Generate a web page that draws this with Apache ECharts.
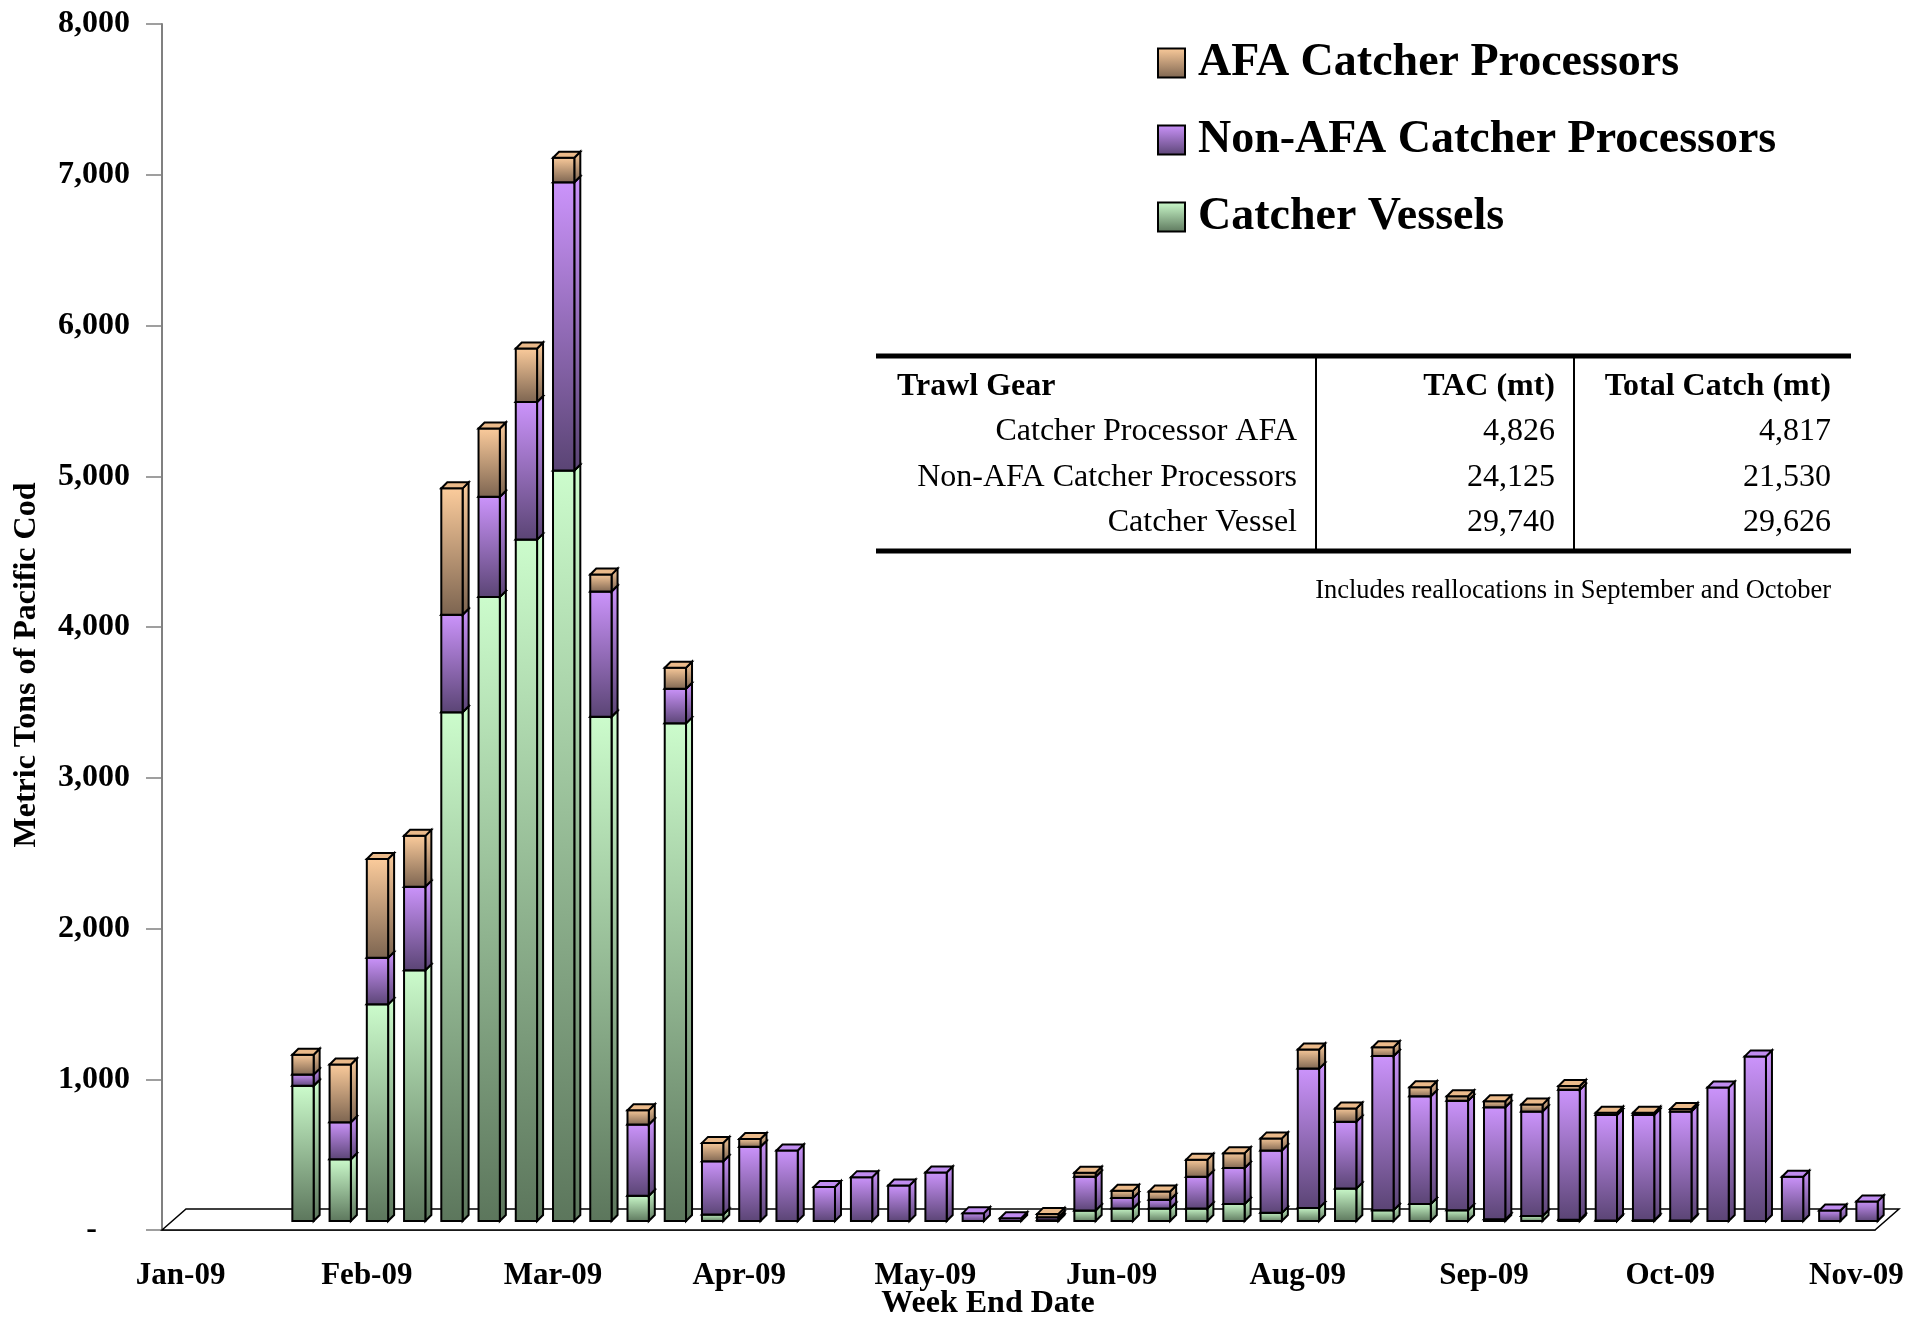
<!DOCTYPE html>
<html>
<head>
<meta charset="utf-8">
<title>Trawl Pacific cod catch by week, 2009</title>
<script src="https://cdn.jsdelivr.net/npm/echarts@6/dist/echarts.min.js"></script>
<style>
  html, body { margin: 0; padding: 0; background: #fff; }
  #chart { width: 1909px; height: 1319px; }
</style>
</head>
<body>
<div id="chart"></div>
<script>
  // week end dates (Saturdays, Jan 3 - Nov 14 2009), shown as Mon-YY
  var weeks = [
    'Jan-09', 'Jan-09', 'Jan-09', 'Jan-09', 'Jan-09',
    'Feb-09', 'Feb-09', 'Feb-09', 'Feb-09',
    'Mar-09', 'Mar-09', 'Mar-09', 'Mar-09',
    'Apr-09', 'Apr-09', 'Apr-09', 'Apr-09',
    'May-09', 'May-09', 'May-09', 'May-09', 'May-09',
    'Jun-09', 'Jun-09', 'Jun-09', 'Jun-09',
    'Jul-09', 'Jul-09', 'Jul-09', 'Jul-09',
    'Aug-09', 'Aug-09', 'Aug-09', 'Aug-09', 'Aug-09',
    'Sep-09', 'Sep-09', 'Sep-09', 'Sep-09',
    'Oct-09', 'Oct-09', 'Oct-09', 'Oct-09', 'Oct-09',
    'Nov-09', 'Nov-09'
  ];

  // metric tons per week
  var catcherVessels = [
    0, 0, 0, 897, 410, 1437, 1664, 3375, 4140, 4520,
    4978, 3345, 168, 3301, 43, 0, 0, 0, 0, 0,
    0, 0, 0, 5, 70, 83, 83, 83, 113, 54,
    87, 215, 72, 113, 72, 11, 33, 9, 3, 5,
    3, 0, 0, 0, 0, 0
  ];
  var nonAfaCP = [
    0, 0, 0, 74, 245, 309, 554, 647, 664, 913,
    1913, 831, 472, 230, 353, 492, 468, 226, 291, 235,
    322, 52, 18, 20, 224, 69, 58, 211, 239, 414,
    924, 444, 1022, 714, 726, 744, 693, 861, 700, 700,
    724, 885, 1092, 294, 70, 130
  ];
  var afaCP = [
    0, 0, 0, 132, 383, 655, 337, 838, 453, 355,
    162, 112, 95, 139, 122, 52, 0, 0, 0, 0,
    0, 0, 0, 22, 26, 48, 55, 113, 98, 80,
    127, 87, 59, 60, 29, 39, 46, 26, 15, 13,
    16, 0, 0, 0, 0, 0
  ];

  var seriesNames = ['AFA Catcher Processors', 'Non-AFA Catcher Processors', 'Catcher Vessels'];

  // inset table
  var tableHead = ['Trawl Gear', 'TAC (mt)', 'Total Catch (mt)'];
  var tableGear = ['Catcher Processor AFA', 'Non-AFA Catcher Processors', 'Catcher Vessel'];
  var tableTac = ['4,826', '24,125', '29,740'];
  var tableCatch = ['4,817', '21,530', '29,626'];
  var tableNote = 'Includes reallocations in September and October';

  var FONT = '"Liberation Serif", "Times New Roman", serif';

  // 3d look: bar depth, lift of the bar front above the axis, floor depth
  var DEPTH = 6;
  var LIFT = 9;
  var FLOOR_DX = 24, FLOOR_DY = 21;

  function grad(top, bottom) {
    return new echarts.graphic.LinearGradient(0, 0, 0, 1, [
      { offset: 0, color: top },
      { offset: 1, color: bottom }
    ]);
  }
  var fillCV = grad('#CCFCCC', '#5C765C');
  var fillNon = grad('#CC94FC', '#5A4474');
  var fillAfa = grad('#FCCC9C', '#7C6450');

  // stack bases
  var cvData = [], nonData = [], afaData = [];
  for (var i = 0; i < weeks.length; i++) {
    cvData.push([i, 0, catcherVessels[i]]);
    nonData.push([i, catcherVessels[i], nonAfaCP[i]]);
    afaData.push([i, catcherVessels[i] + nonAfaCP[i], afaCP[i]]);
  }

  function boxRenderer(fill, topColor) {
    return function (params, api) {
      var v = api.value(2);
      if (!v) return;
      var lo = api.coord([api.value(0), api.value(1)]);
      var hi = api.coord([api.value(0), api.value(1) + v]);
      var cw = api.size([1, 0])[0];
      var x0 = lo[0], x1 = lo[0] + cw * 0.572;
      var yb = lo[1] - LIFT, yt = hi[1] - LIFT;
      var line = { stroke: '#000', lineWidth: 2 };
      return {
        type: 'group',
        children: [
          {
            type: 'polygon',
            shape: { points: [[x1, yb], [x1 + DEPTH, yb - DEPTH], [x1 + DEPTH, yt - DEPTH], [x1, yt]] },
            style: Object.assign({ fill: fill }, line)
          },
          {
            type: 'rect',
            shape: { x: x0, y: yt, width: x1 - x0, height: yb - yt },
            style: Object.assign({ fill: fill }, line)
          },
          {
            type: 'polygon',
            shape: { points: [[x0, yt], [x1, yt], [x1 + DEPTH, yt - DEPTH], [x0 + DEPTH, yt - DEPTH]] },
            style: Object.assign({ fill: topColor }, line)
          }
        ]
      };
    };
  }

  function floorRenderer(params, api) {
    var cs = params.coordSys;
    var yb = cs.y + cs.height;
    return {
      type: 'polygon',
      shape: {
        points: [[cs.x, yb], [cs.x + FLOOR_DX, yb - FLOOR_DY],
                 [cs.x + cs.width + FLOOR_DX, yb - FLOOR_DY], [cs.x + cs.width, yb]]
      },
      style: { fill: '#fff', stroke: '#000', lineWidth: 1.5 }
    };
  }

  function boxSeries(name, data, fill, topColor) {
    return {
      name: name,
      type: 'custom',
      renderItem: boxRenderer(fill, topColor),
      data: data,
      encode: { x: 0, y: 2 },
      itemStyle: { color: fill },
      z: 3,
      silent: true
    };
  }

  // table graphics
  var TX0 = 876, TX1 = 1851, TTOP = 356, TBOT = 551;
  var COL1 = 1316, COL2 = 1574;
  var rowY = [387, 432, 478, 523];
  var graphics = [
    { type: 'line', shape: { x1: TX0, y1: TTOP, x2: TX1, y2: TTOP }, style: { stroke: '#000', lineWidth: 5 } },
    { type: 'line', shape: { x1: TX0, y1: TBOT, x2: TX1, y2: TBOT }, style: { stroke: '#000', lineWidth: 5 } },
    { type: 'line', shape: { x1: COL1, y1: TTOP, x2: COL1, y2: TBOT }, style: { stroke: '#000', lineWidth: 2 } },
    { type: 'line', shape: { x1: COL2, y1: TTOP, x2: COL2, y2: TBOT }, style: { stroke: '#000', lineWidth: 2 } }
  ];
  function txt(s, x, y, align, size, weight) {
    return {
      type: 'text',
      style: {
        text: s, x: x, y: y,
        textAlign: align, align: align,
        textVerticalAlign: 'middle', verticalAlign: 'middle',
        font: (weight || 'normal') + ' ' + size + 'px ' + FONT,
        fill: '#000'
      }
    };
  }
  graphics.push(txt(tableHead[0], 897, rowY[0], 'left', 32, 'bold'));
  graphics.push(txt(tableHead[1], 1555, rowY[0], 'right', 32, 'bold'));
  graphics.push(txt(tableHead[2], 1831, rowY[0], 'right', 32, 'bold'));
  for (var r = 0; r < tableGear.length; r++) {
    graphics.push(txt(tableGear[r], 1297, rowY[r + 1], 'right', 32));
    graphics.push(txt(tableTac[r], 1555, rowY[r + 1], 'right', 32));
    graphics.push(txt(tableCatch[r], 1831, rowY[r + 1], 'right', 32));
  }
  graphics.push(txt(tableNote, 1831, 591, 'right', 26.5));
  // axis titles
  graphics.push(txt('Week End Date', 988, 1304, 'center', 32, 'bold'));
  var yName = txt('Metric Tons of Pacific Cod', 0, 0, 'center', 32, 'bold');
  yName.x = 27;
  yName.y = 665;
  yName.rotation = Math.PI / 2;
  graphics.push(yName);

  var chart = echarts.init(document.getElementById('chart'));
  chart.setOption({
    animation: false,
    backgroundColor: '#fff',
    grid: { left: 162, right: 34, top: 24, bottom: 89, containLabel: false },
    legend: {
      orient: 'vertical',
      left: 1152,
      top: 33,
      itemWidth: 27,
      itemHeight: 29,
      itemGap: 27,
      icon: 'rect',
      selectedMode: false,
      textStyle: {
        fontFamily: FONT, fontWeight: 'bold', fontSize: 46, lineHeight: 50,
        color: '#000', padding: [0, 0, 0, 8]
      },
      data: [
        { name: seriesNames[0], itemStyle: { color: fillAfa, borderColor: '#000', borderWidth: 2 } },
        { name: seriesNames[1], itemStyle: { color: fillNon, borderColor: '#000', borderWidth: 2 } },
        { name: seriesNames[2], itemStyle: { color: fillCV, borderColor: '#000', borderWidth: 2 } }
      ]
    },
    xAxis: {
      type: 'category',
      data: weeks,
      boundaryGap: true,
      axisLine: { lineStyle: { color: '#333', width: 1.5 } },
      axisTick: { interval: 0, length: 17, lineStyle: { color: '#555', width: 1.5 } },
      axisLabel: {
        interval: 4, margin: 30, color: '#000',
        fontFamily: FONT, fontWeight: 'bold', fontSize: 31
      },
      splitLine: { show: false }
    },
    yAxis: {
      type: 'value',
      min: 0, max: 8000, interval: 1000,
      axisLine: { show: true, lineStyle: { color: '#808080', width: 2 } },
      axisTick: { show: true, length: 16, lineStyle: { color: '#808080', width: 1.5 } },
      axisLabel: {
        margin: 32, color: '#000',
        fontFamily: FONT, fontWeight: 'bold', fontSize: 32,
        formatter: function (v) {
          return v === 0 ? '{z|-}' : v.toLocaleString('en-US');
        },
        rich: { z: { fontFamily: FONT, fontWeight: 'bold', fontSize: 32, padding: [0, 33, 0, 0] } }
      },
      splitLine: { show: false }
    },
    graphic: graphics,
    series: [
      {
        name: 'floor',
        type: 'custom',
        renderItem: floorRenderer,
        data: [[0, 0]],
        z: 1,
        silent: true
      },
      boxSeries(seriesNames[2], cvData, fillCV, '#C4F0C4'),
      boxSeries(seriesNames[1], nonData, fillNon, '#C08CF0'),
      boxSeries(seriesNames[0], afaData, fillAfa, '#EBBA8A')
    ]
  });
</script>
</body>
</html>
